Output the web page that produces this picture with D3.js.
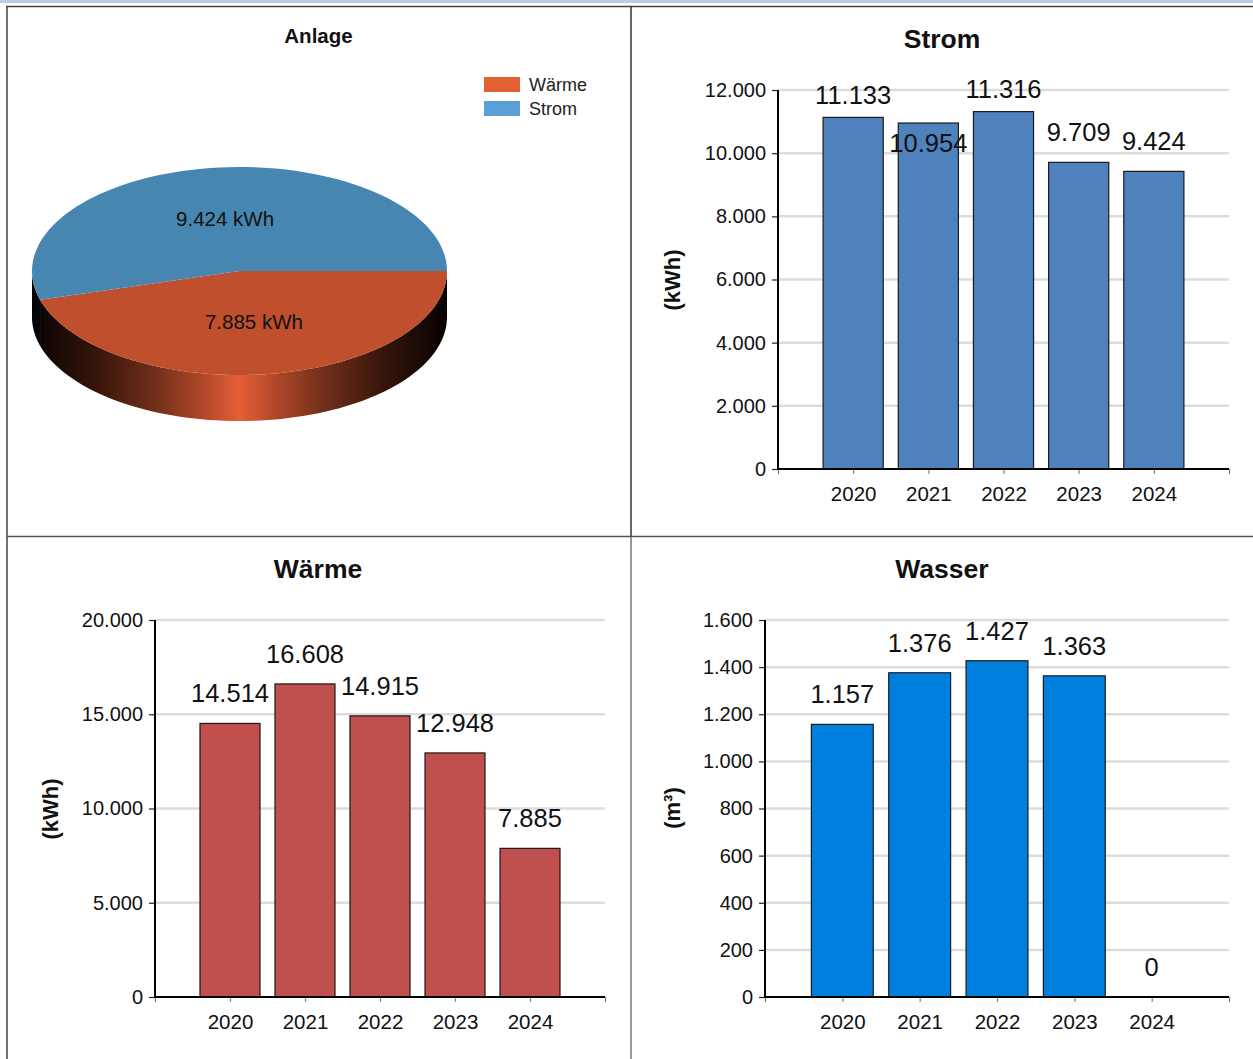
<!DOCTYPE html>
<html><head><meta charset="utf-8">
<script src="https://cdn.jsdelivr.net/npm/d3@7"></script>
<style>
html,body{margin:0;padding:0;background:#fff;}
svg{display:block;font-family:"Liberation Sans",Arial,sans-serif;}
</style></head>
<body>
<svg id="chart" width="1253" height="1059"></svg>
<script>
// ---------- data ----------
const years = ["2020", "2021", "2022", "2023", "2024"];
const stromValues = [11133, 10954, 11316, 9709, 9424];
const waermeValues = [14514, 16608, 14915, 12948, 7885];
const wasserValues = [1157, 1376, 1427, 1363, 0];
const stromTicks = [0, 2000, 4000, 6000, 8000, 10000, 12000];
const waermeTicks = [0, 5000, 10000, 15000, 20000];
const wasserTicks = [0, 200, 400, 600, 800, 1000, 1200, 1400, 1600];
const pieCategories = ["Wärme", "Strom"];
const pieValues = [7885, 9424];
const pieUnit = "kWh";

const de = d3.formatLocale({decimal: ",", thousands: ".", grouping: [3], currency: ["", "€"]});
const fmt = de.format(",d");

const svg = d3.select("#chart");
const FONT = '"Liberation Sans",Arial,sans-serif';

// ---------- frame ----------
svg.append("rect").attr("x", 0).attr("y", 0).attr("width", 1253).attr("height", 3).attr("fill", "#b9cde5");
const frame = [
  [6, 6.5, 1253, 6.5, "#444"],
  [7, 6, 7, 1059, "#444"],
  [631, 6, 631, 536, "#333"],
  [631, 536, 631, 1059, "#777"],
  [7, 536.5, 1253, 536.5, "#555"]
];
frame.forEach(f => svg.append("line").attr("x1", f[0]).attr("y1", f[1]).attr("x2", f[2]).attr("y2", f[3])
  .attr("stroke", f[4]).attr("stroke-width", 1.5));

// ---------- bar charts ----------
function barChart(o) {
  const g = svg.append("g");
  const x = d3.scalePoint().domain(years).range([o.L, o.R]).padding(1);
  const y = d3.scaleLinear().domain([0, d3.max(o.ticks)]).range([o.y0, o.yTop]);
  const step = x.step();
  const bw = step * 0.8;

  // grid
  g.selectAll("line.grid").data(o.ticks.filter(t => t > 0)).join("line")
    .attr("x1", o.L).attr("x2", o.R).attr("y1", d => y(d)).attr("y2", d => y(d))
    .attr("stroke", "#dcdcdc").attr("stroke-width", 2.5);

  // bars
  g.selectAll("rect.bar").data(o.values).join("rect")
    .attr("x", (d, i) => x(years[i]) - bw / 2).attr("width", bw)
    .attr("y", d => y(d)).attr("height", d => o.y0 - y(d))
    .attr("fill", o.fill).attr("stroke", "#1a1a1a").attr("stroke-width", 1.2);

  // y axis
  const ya = g.append("g").attr("transform", `translate(${o.L},0)`)
    .call(d3.axisLeft(y).tickValues(o.ticks).tickFormat(fmt).tickSize(6).tickPadding(6).tickSizeOuter(0));
  ya.select(".domain").remove();
  ya.selectAll(".tick line").attr("stroke", "#222").attr("stroke-width", 1.2);
  ya.selectAll(".tick text").attr("font-size", 20).attr("font-family", FONT).attr("fill", "#111");
  g.append("line").attr("x1", o.L).attr("x2", o.L).attr("y1", o.yTop).attr("y2", o.y0 + 1)
    .attr("stroke", "#000").attr("stroke-width", 2);

  // x axis
  const xa = g.append("g").attr("transform", `translate(0,${o.y0})`)
    .call(d3.axisBottom(x).tickSize(5).tickPadding(12).tickSizeOuter(5));
  xa.select(".domain").attr("stroke", "#777").attr("stroke-width", 1.2);
  xa.selectAll(".tick line").attr("stroke", "#888").attr("stroke-width", 1.2);
  xa.selectAll(".tick text").attr("font-size", 20.5).attr("font-family", FONT).attr("fill", "#111");
  g.append("line").attr("x1", o.L - 1).attr("x2", o.R).attr("y1", o.y0).attr("y2", o.y0)
    .attr("stroke", "#000").attr("stroke-width", 2);

  // value labels
  const fs = 25.5, cap = 0.716 * fs;
  const placed = [];
  o.values.forEach((v, i) => {
    const cx = x(years[i]);
    const txt = fmt(v);
    const w = (txt.replace(/\./g, "").length * 0.556 + (txt.match(/\./g) || []).length * 0.278) * fs;
    let base = y(v) - 21;
    if (base - cap < o.yTop) base = y(v) - 13.5;
    const prev = placed[placed.length - 1];
    if (prev && Math.abs(prev.base - base) < cap + 2 && (prev.cx + prev.w / 2) > (cx - w / 2)) {
      base = y(v) + 29;
    }
    placed.push({cx, w, base});
    g.append("text").attr("x", cx).attr("y", base).attr("text-anchor", "middle")
      .attr("font-size", fs).attr("font-family", FONT).attr("fill", "#111").text(txt);
  });

  // title
  g.append("text").attr("x", o.titleX).attr("y", o.titleY).attr("text-anchor", "middle")
    .attr("font-size", 26.5).attr("font-weight", "bold").attr("font-family", FONT).attr("fill", "#111").text(o.title);
  // y label
  g.append("text").attr("transform", `translate(${o.ylx},${o.yly}) rotate(-90)`).attr("dy", "0.35em")
    .attr("text-anchor", "middle").attr("font-size", 22).attr("font-weight", "bold")
    .attr("font-family", FONT).attr("fill", "#111").text(o.ylabel);
}

barChart({L: 778, R: 1229, y0: 469, yTop: 90, ticks: stromTicks, values: stromValues, fill: "#4f81bd",
  title: "Strom", titleX: 942, titleY: 47.5, ylabel: "(kWh)", ylx: 672, yly: 280});
barChart({L: 155, R: 605, y0: 997, yTop: 620, ticks: waermeTicks, values: waermeValues, fill: "#c0504d",
  title: "Wärme", titleX: 318, titleY: 577.5, ylabel: "(kWh)", ylx: 50, yly: 809});
barChart({L: 765, R: 1229, y0: 997, yTop: 620, ticks: wasserTicks, values: wasserValues, fill: "#0080de",
  title: "Wasser", titleX: 942, titleY: 577.5, ylabel: "(m³)", ylx: 672, yly: 808});

// ---------- 3D pie ----------
(function () {
  const cx = 239.5, cy = 271, rx = 207.5, ry = 104, depth = 46;
  const topColors = ["#c04f2d", "#4786b0"];
  const sideColors = [["#060201", "#35140a", "#72301a", "#b5492a", "#e65f36"],
                      ["#010305", "#0e2230", "#1f4a66", "#346e95", "#4b8fbd"]];
  const legendColors = ["#e36033", "#58a0d5"];
  const defs = svg.append("defs");
  sideColors.forEach((c, k) => {
    const gr = defs.append("linearGradient").attr("id", "side" + k).attr("gradientUnits", "userSpaceOnUse")
      .attr("x1", cx - rx).attr("x2", cx + rx).attr("y1", 0).attr("y2", 0);
    const offs = [0, 0.15, 0.3, 0.42, 0.5, 0.58, 0.7, 0.85, 1];
    const cols = [c[0], c[1], c[2], c[3], c[4], c[3], c[2], c[1], c[0]];
    offs.forEach((o, j) => gr.append("stop").attr("offset", o).attr("stop-color", cols[j]));
  });

  const pie = d3.pie().sort(null).startAngle(Math.PI / 2).endAngle(Math.PI / 2 + 2 * Math.PI);
  const arcs = pie(pieValues);
  const px = t => cx + rx * Math.sin(t);
  const py = (t, dz) => cy - ry * Math.cos(t) + dz;
  const N = 80;

  function ellipsePts(a0, a1, dz) {
    const pts = [];
    for (let j = 0; j <= N; j++) {
      const t = a0 + (a1 - a0) * j / N;
      pts.push([px(t), py(t, dz)]);
    }
    return pts;
  }
  const g = svg.append("g");
  // sides (front half: angles PI/2 .. 3PI/2)
  arcs.forEach((a, k) => {
    const s = Math.max(a.startAngle, Math.PI / 2), e = Math.min(a.endAngle, 3 * Math.PI / 2);
    if (e <= s) return;
    const top = ellipsePts(s, e, 0), bot = ellipsePts(e, s, depth);
    g.append("path").attr("d", "M" + top.concat(bot).map(p => p.join(",")).join("L") + "Z")
      .attr("fill", `url(#side${k})`);
  });
  // tops
  arcs.forEach((a, k) => {
    const pts = [[cx, cy]].concat(ellipsePts(a.startAngle, a.endAngle, 0));
    g.append("path").attr("d", "M" + pts.map(p => p.join(",")).join("L") + "Z").attr("fill", topColors[k]);
  });
  // labels
  arcs.forEach((a, k) => {
    const m = (a.startAngle + a.endAngle) / 2;
    g.append("text").attr("x", cx + 0.5 * rx * Math.sin(m)).attr("y", cy - 0.5 * ry * Math.cos(m))
      .attr("dy", "0.33em").attr("text-anchor", "middle").attr("font-size", 20.5)
      .attr("font-family", FONT).attr("fill", "#111").text(fmt(pieValues[k]) + " " + pieUnit);
  });
  // title
  svg.append("text").attr("x", 318.5).attr("y", 43).attr("text-anchor", "middle").attr("font-size", 20.5)
    .attr("font-weight", "bold").attr("font-family", FONT).attr("fill", "#111").text("Anlage");
  // legend
  pieCategories.forEach((c, k) => {
    svg.append("rect").attr("x", 484).attr("y", 77 + k * 24).attr("width", 36).attr("height", 15).attr("fill", legendColors[k]);
    svg.append("text").attr("x", 529).attr("y", 84.5 + k * 24).attr("dy", "0.35em").attr("font-size", 18)
      .attr("font-family", FONT).attr("fill", "#222").text(c);
  });
})();
</script>
</body></html>
